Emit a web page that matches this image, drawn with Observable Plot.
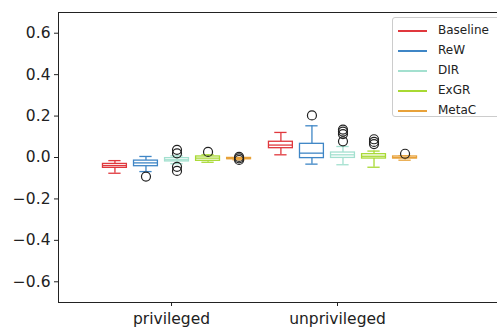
<!DOCTYPE html>
<html>
<head>
<meta charset="utf-8">
<script src="https://cdn.jsdelivr.net/npm/d3@7"></script>
<script src="https://cdn.jsdelivr.net/npm/@observablehq/plot@0.6"></script>
<style>
  html, body { margin: 0; padding: 0; background: #fff; overflow: hidden; }
  #wrap { position: relative; width: 497px; height: 330px; overflow: hidden; font-family: "DejaVu Sans", sans-serif; }
  #legend { position: absolute; left: 392px; top: 17px; width: 130px; height: 100px; border: 1px solid #cccccc; border-radius: 3px; background: rgba(255,255,255,0.85); box-sizing: border-box; }
  .item { position: absolute; left: 0; height: 20px; font-size: 12px; color: #222; }
  .item .ln { position: absolute; left: 5px; width: 29px; height: 2px; top: 9px; }
  .item .tx { position: absolute; left: 45px; top: 2px; white-space: nowrap; }
</style>
</head>
<body>
<div id="wrap"></div>
<script>
const groups = ["privileged", "unprivileged"];
const methods = ["Baseline", "ReW", "DIR", "ExGR", "MetaC"];
const colors = ["#e0383d", "#3f86c6", "#a3e0cf", "#a8d933", "#e8a23a"];

// Box statistics, ordered group-major: privileged (5 methods), unprivileged (5 methods)
const whiskerLo = [-0.076, -0.068, -0.030, -0.023, -0.011,  0.013, -0.032, -0.035, -0.047, -0.013];
const q1        = [-0.050, -0.042, -0.019, -0.016, -0.008,  0.045, -0.003, -0.002, -0.005, -0.005];
const median    = [-0.039, -0.026, -0.011, -0.003, -0.005,  0.060,  0.021,  0.013,  0.006,  0.000];
const q3        = [-0.031, -0.015, -0.003,  0.005, -0.002,  0.076,  0.066,  0.024,  0.016,  0.005];
const whiskerHi = [-0.015,  0.005,  0.008,  0.013, -0.001,  0.121,  0.153,  0.053,  0.031,  0.008];

// Outliers: group index, method index, value
const outGroup  = [0, 0, 0, 0, 0, 0, 0, 0, 0,   1, 1, 1, 1, 1, 1, 1, 1, 1];
const outMethod = [1, 2, 2, 2, 2, 3, 4, 4, 4,   1, 2, 2, 2, 2, 3, 3, 3, 4];
const outValue  = [-0.092, 0.037, 0.020, -0.045, -0.065, 0.027, 0.003, -0.004, -0.012,
                   0.203, 0.135, 0.125, 0.113, 0.078, 0.088, 0.075, 0.065, 0.018];

const yTicks = [-0.6, -0.4, -0.2, 0.0, 0.2, 0.4, 0.6];

// layout constants (styling, not data)
const step = 0.187, shift = 0.033, half = 0.072, capHalf = 0.037;
const pos = (g, m) => g + (m - 2) * step + shift;

const boxes = [];
groups.forEach((g, gi) => methods.forEach((m, mi) => {
  const k = gi * methods.length + mi;
  boxes.push({gi, mi, x: pos(gi, mi), lo: whiskerLo[k], q1: q1[k], med: median[k], q3: q3[k], hi: whiskerHi[k], color: colors[mi]});
}));
const outliers = outValue.map((v, i) => ({x: pos(outGroup[i], outMethod[i]), y: v}));

const xDomain = [-0.681, 1.964];
const yDomain = [-0.7, 0.7];

const plot = Plot.plot({
  width: 497,
  height: 330,
  marginLeft: 58,
  marginRight: 0,
  marginTop: 12,
  marginBottom: 28,
  style: {fontFamily: "DejaVu Sans, sans-serif", fontSize: "15.5px", color: "#222", background: "white"},
  x: {domain: xDomain, axis: null},
  y: {domain: yDomain, axis: null},
  marks: [
    // whiskers
    Plot.ruleX(boxes, {x: "x", y1: "lo", y2: "q1", stroke: "color", strokeWidth: 1.3}),
    Plot.ruleX(boxes, {x: "x", y1: "q3", y2: "hi", stroke: "color", strokeWidth: 1.3}),
    // caps
    Plot.ruleY(boxes, {y: "lo", x1: d => d.x - capHalf, x2: d => d.x + capHalf, stroke: "color", strokeWidth: 1.3}),
    Plot.ruleY(boxes, {y: "hi", x1: d => d.x - capHalf, x2: d => d.x + capHalf, stroke: "color", strokeWidth: 1.3}),
    // boxes
    Plot.rect(boxes, {x1: d => d.x - half, x2: d => d.x + half, y1: "q1", y2: "q3", fill: "white", stroke: "color", strokeWidth: 1.3}),
    // medians
    Plot.ruleY(boxes, {y: "med", x1: d => d.x - half, x2: d => d.x + half, stroke: "color", strokeWidth: 1.3}),
    // outliers
    Plot.dot(outliers, {x: "x", y: "y", r: 4.5, stroke: "#222", fill: "none", strokeWidth: 1.2}),
    // frame: left, top, bottom
    Plot.ruleX([xDomain[0]], {stroke: "#222", strokeWidth: 1}),
    Plot.ruleY([yDomain[1], yDomain[0]], {stroke: "#222", strokeWidth: 1}),
    // axes
    Plot.axisY(yTicks, {tickSize: 4, tickPadding: 4, tickFormat: d3.format(".1f"), fontSize: 15.5, stroke: "#222", label: null}),
    Plot.axisX([0, 1], {tickSize: 4, tickPadding: 6, tickFormat: i => groups[i], fontSize: 15.5, stroke: "#222", label: null})
  ]
});
const wrap = document.getElementById("wrap");
wrap.appendChild(plot);

const legend = document.createElement("div");
legend.id = "legend";
methods.forEach((m, i) => {
  const it = document.createElement("div");
  it.className = "item";
  it.style.top = (3 + i * 20) + "px";
  it.innerHTML = `<div class="ln" style="background:${colors[i]}"></div><div class="tx">${m}</div>`;
  legend.appendChild(it);
});
wrap.appendChild(legend);
</script>
</body>
</html>
